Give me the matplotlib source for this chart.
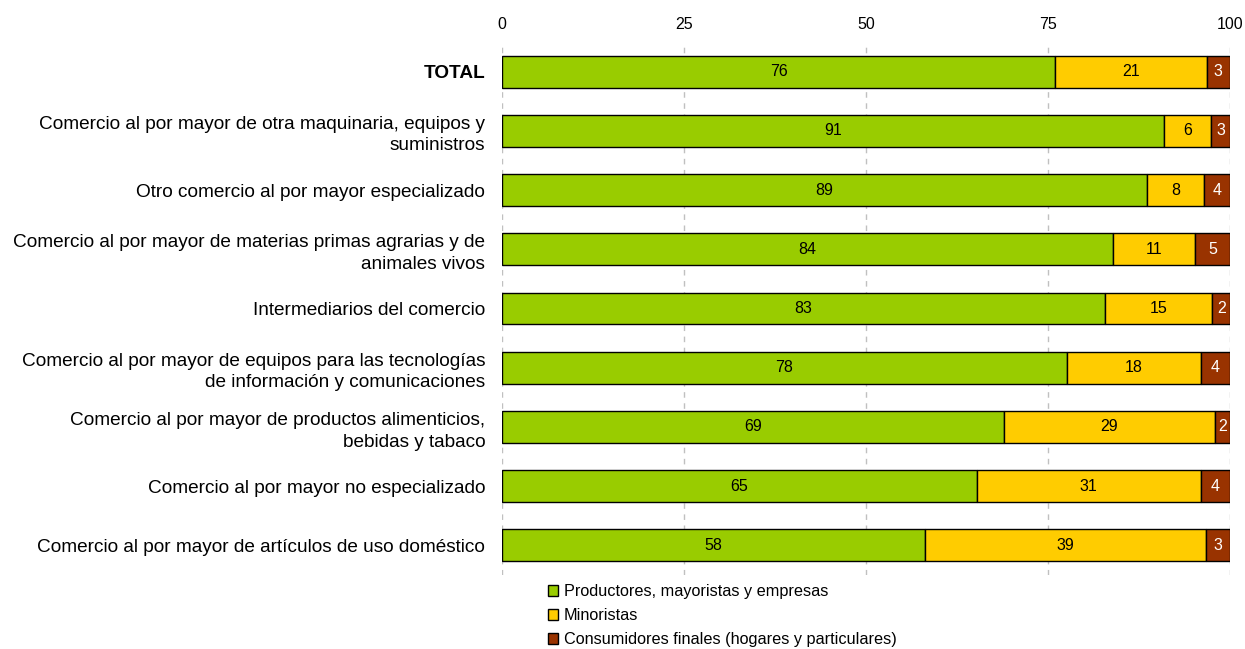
import matplotlib.pyplot as plt
from matplotlib.patches import Patch
import numpy as np

plt.rcParams['font.family'] = ['Liberation Sans', 'DejaVu Sans']

# Categorías (de arriba a abajo)
CATEGORIAS = [
    "TOTAL",
    "Comercio al por mayor de otra maquinaria, equipos y\nsuministros",
    "Otro comercio al por mayor especializado",
    "Comercio al por mayor de materias primas agrarias y de\nanimales vivos",
    "Intermediarios del comercio",
    "Comercio al por mayor de equipos para las tecnologías\nde información y comunicaciones",
    "Comercio al por mayor de productos alimenticios,\nbebidas y tabaco",
    "Comercio al por mayor no especializado",
    "Comercio al por mayor de artículos de uso doméstico",
]

PRODUCTORES = [76.0, 91.0, 88.6, 84.0, 82.8, 77.6, 69.0, 65.2, 58.1]
MINORISTAS = [20.8, 6.4, 7.8, 11.2, 14.8, 18.4, 28.9, 30.8, 38.6]
CONSUMIDORES = [3.2, 2.6, 3.6, 4.8, 2.4, 4.0, 2.1, 4.0, 3.3]

SERIES = ["Productores, mayoristas y empresas", "Minoristas",
          "Consumidores finales (hogares y particulares)"]
COLORES = ["#99CC00", "#FFCC00", "#993300"]
COL_TXT = ["black", "black", "white"]

XTICKS = [0, 25, 50, 75, 100]

fig = plt.figure(figsize=(12.45, 6.49), dpi=100)
ax = fig.add_axes([0.4032, 0.114, 0.5847, 0.8213])

y = np.arange(len(CATEGORIAS))
left = np.zeros(len(CATEGORIAS))
for vals, col, tcol, lab in zip([PRODUCTORES, MINORISTAS, CONSUMIDORES],
                                COLORES, COL_TXT, SERIES):
    vals = np.array(vals)
    bars = ax.barh(y, vals, left=left, height=0.54, color=col,
                   edgecolor='black', linewidth=1.0, label=lab, zorder=3)
    for b, v in zip(bars, vals):
        ax.text(b.get_x() + b.get_width() / 2, b.get_y() + b.get_height() / 2,
                f"{round(v):d}", ha='center', va='center', fontsize=11.5,
                color=tcol, zorder=4)
    left += vals

ax.set_xlim(0, 100)
ax.set_ylim(len(CATEGORIAS) - 0.5, -0.5)
ax.set_xticks(XTICKS)
ax.xaxis.tick_top()
ax.tick_params(axis='x', length=0, pad=7, labelsize=11.5)
ax.tick_params(axis='y', length=0, pad=12, labelsize=13.7)
ax.set_yticks(y)
ax.set_yticklabels(CATEGORIAS, linespacing=1.35)
ax.get_yticklabels()[0].set_fontweight('bold')

for s in ax.spines.values():
    s.set_visible(False)
ax.grid(axis='x', color='#c0c0c0', ls=(0, (4, 4)), lw=1.0, zorder=0)
ax.grid(axis='y', visible=False)

handles = [Patch(facecolor=c, edgecolor='black', linewidth=1.0) for c in COLORES]
fig.legend(handles, SERIES, loc='upper left', bbox_to_anchor=(0.440, 0.100),
           frameon=False, fontsize=11.7, handlelength=0.65, handleheight=0.65,
           handletextpad=0.35, labelspacing=0.55, borderpad=0, borderaxespad=0)

fig.savefig("out.png", dpi=100)
